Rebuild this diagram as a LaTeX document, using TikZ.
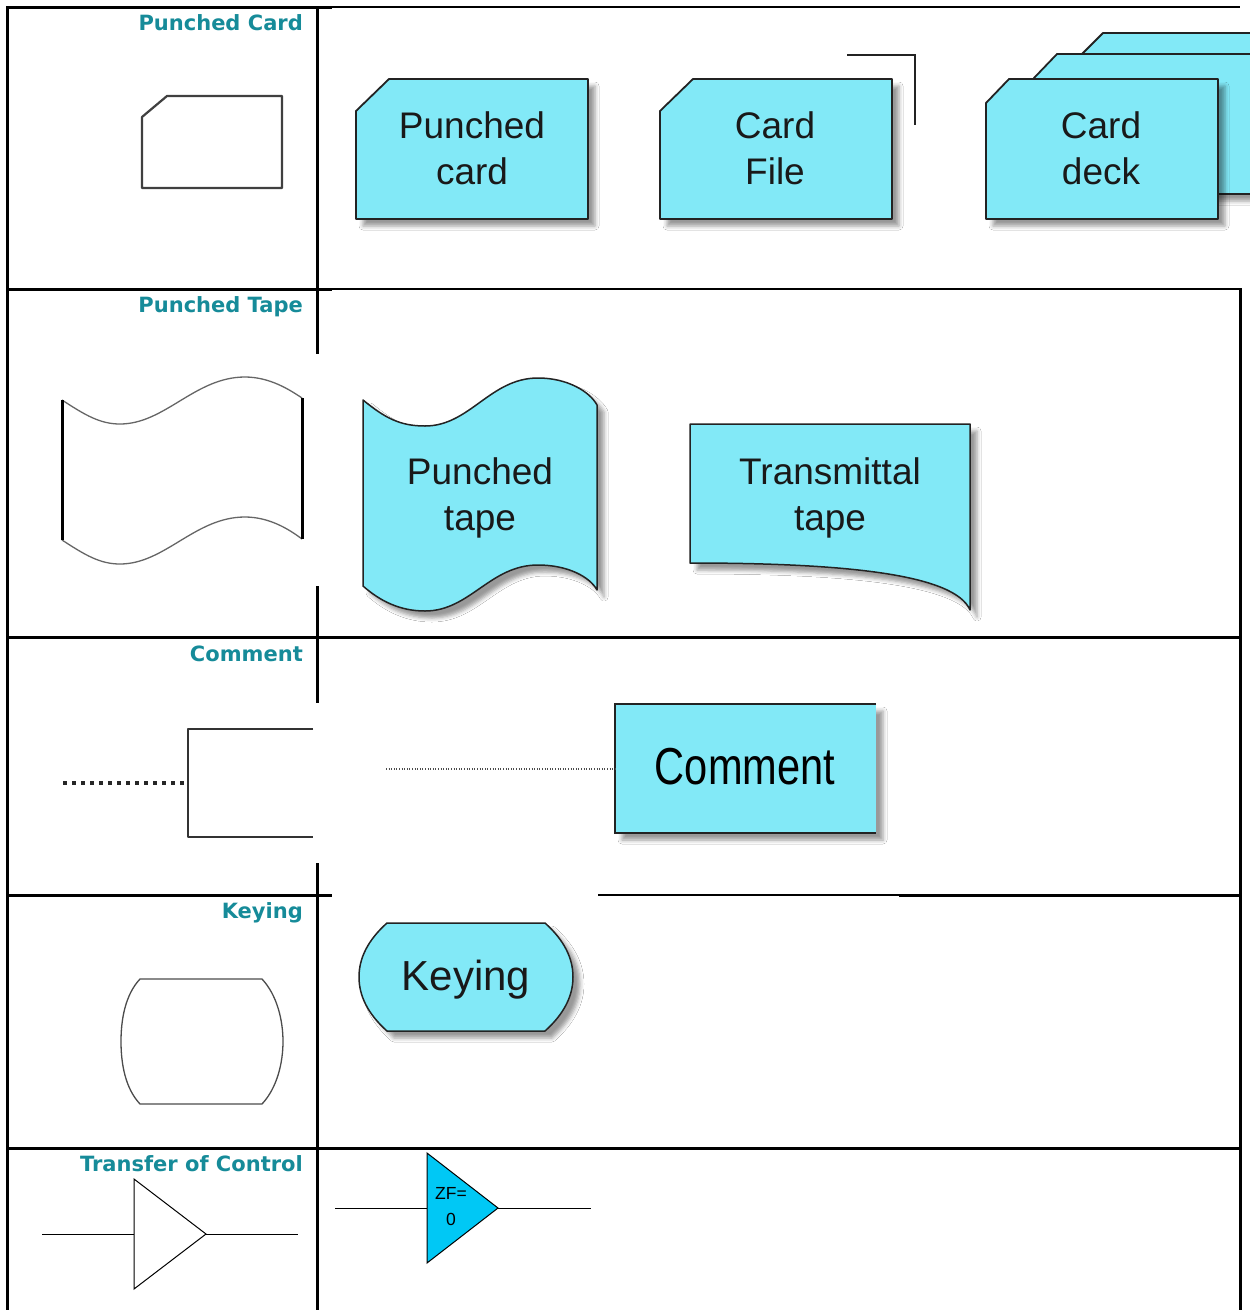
\documentclass[tikz,border=0pt]{standalone}
\usepackage{fontspec}
\setmainfont{Liberation Sans}
\newfontfamily\lblfont{DejaVu Sans}
\usetikzlibrary{shadows.blur}
\definecolor{cardblue}{RGB}{130,233,247}
\definecolor{lblteal}{RGB}{22,139,153}
\definecolor{tocblue}{RGB}{0,200,245}
\definecolor{shapeedge}{RGB}{35,35,35}
\begin{document}
\begin{tikzpicture}[x=1pt,y=-1pt,
  every node/.style={inner sep=0pt},
  tblthick/.style={line width=3pt,line cap=rect},
  tblthin/.style={line width=1.5pt},
  shd/.style={blur shadow={shadow xshift=7pt,shadow yshift=-7pt,shadow blur radius=4pt,shadow opacity=40}},
  card/.style={fill=cardblue,draw=shapeedge,line width=1.8pt,line join=round,shd},
  cardtxt/.style={font=\fontsize{37}{46}\selectfont,text=black!90,align=center},
  lbl/.style={font=\lblfont\bfseries\fontsize{21}{25}\selectfont,text=lblteal,anchor=base east},
  outl/.style={draw=black!80,line width=2pt,line join=round},
  thinline/.style={draw=black,line width=1pt}]
\useasboundingbox (0,0) rectangle (1250,1310);
\fill[white] (0,0) rectangle (1250,1310);

% ---------------- table grid ----------------
\draw[tblthick] (7,7) -- (7,1310);
\draw[tblthick] (317,7) -- (317,352);
\draw[tblthick] (317,587) -- (317,701);
\draw[tblthick] (317,864) -- (317,1310);
\draw[tblthick] (7,7) -- (330,7);
\draw[tblthin] (330,7) -- (1240,7);
\draw[tblthick] (7,289) -- (330,289);
\draw[tblthin] (330,289) -- (1240,289);
\draw[tblthick] (1240,289) -- (1240,1310);
\draw[tblthick] (7,637) -- (1240,637);
\draw[tblthick] (7,895) -- (330,895);
\draw[tblthin] (598,895) -- (900,895);
\draw[tblthick] (900,895) -- (1240,895);
\draw[tblthick] (7,1148) -- (1240,1148);

% ---------------- labels ----------------
\node[lbl] (lcard) at (303,30) {Punched Card};
\node[lbl] (ltape) at (303,312) {Punched Tape};
\node[lbl] (lcomm) at (303,661) {Comment};
\node[lbl] (lkey) at (303,918) {Keying};
\node[lbl] (ltoc) at (303,1171) {Transfer of Control};

% ---------------- row 1: punched card ----------------
\draw[draw=black!75,line width=2.2pt,line join=round]
  (142,117) -- (167,96) -- (282,96) -- (282,188) -- (142,188) -- cycle;

\path[card] (356,111) -- (389,79) -- (588,79) -- (588,219) -- (356,219) -- cycle;
\node[cardtxt] (pcard) at (472,148.5) {Punched\\card};

\path[card] (660,111) -- (693,79) -- (892,79) -- (892,219) -- (660,219) -- cycle;
\node[cardtxt] (cfile) at (775,148.5) {Card\\File};
\draw[draw=shapeedge,line width=2pt] (847,55) -- (915,55) -- (915,125);

\begin{scope}
  \clip (0,0) rectangle (1250,1310);
  \path[card] (1080,56) -- (1103,33) -- (1300,33) -- (1300,173) -- (1080,173) -- cycle;
  \path[card] (1034,78) -- (1057,54) -- (1300,54) -- (1300,194) -- (1034,194) -- cycle;
  \path[card] (986,103) -- (1009,79) -- (1218,79) -- (1218,219) -- (986,219) -- cycle;
\end{scope}
\node[cardtxt] (cdeck) at (1101,148.5) {Card\\deck};

% ---------------- row 2: punched tape ----------------
\draw[draw=black!60,line width=1.3pt]
  (62,400) .. controls (85,415) and (100,424) .. (120,424)
  .. controls (165,424) and (195,377) .. (245,377)
  .. controls (270,377) and (290,390) .. (302,398);
\draw[draw=black!60,line width=1.3pt]
  (62,540) .. controls (85,555) and (100,564) .. (120,564)
  .. controls (165,564) and (195,517) .. (245,517)
  .. controls (270,517) and (290,530) .. (302,539);
\draw[line width=3pt] (62,400) -- (62,540);
\draw[line width=3pt] (302,398) -- (302,539);

\path[card,line width=1.5pt]
  (363,400) .. controls (385,418) and (400,426) .. (425,426)
  .. controls (470,426) and (490,378) .. (538,378)
  .. controls (568,378) and (590,392) .. (597,405)
  -- (597,590)
  .. controls (590,577) and (568,565) .. (538,565)
  .. controls (490,565) and (470,611) .. (425,611)
  .. controls (400,611) and (380,601) .. (363,586) -- cycle;
\node[cardtxt] (ptape) at (480,498) {Punched\\tape};

\path[card,line width=1.5pt]
  (690,424) -- (970,424) -- (970,610)
  .. controls (955,575) and (850,563) .. (690,563) -- cycle;
\node[cardtxt] (ttape) at (830,498) {Transmittal\\tape};

% ---------------- row 3: comment ----------------
\coordinate (cdotA) at (63,783);
\coordinate (cbrk) at (188,783);
\draw[line width=3.5pt,dash pattern=on 3.5pt off 5.5pt,black!85] (cdotA) -- (cbrk);
\draw[outl] (313,729) -- (188,729) -- (188,837) -- (313,837);

\path[fill=cardblue,shd] (615,704) rectangle (876,833);
\draw[draw=shapeedge,line width=2pt] (876,704) -- (615,704) -- (615,833) -- (876,833);
\node[font=\fontsize{52}{60}\selectfont,text=black] (comm) at (745,767) {\scalebox{0.8}[1]{Comment}};
\coordinate (cdotB) at (386,769);
\draw[line width=1.2pt,dash pattern=on 1pt off 1.6pt,black!70] (cdotB) -- (615,769);

% ---------------- row 4: keying ----------------
\draw[draw=black!70,line width=1.3pt]
  (140,979) -- (262,979)
  .. controls (277,995) and (283,1020) .. (283,1041.5)
  .. controls (283,1063) and (277,1088) .. (262,1104)
  -- (140,1104)
  .. controls (125,1088) and (121,1063) .. (121,1041.5)
  .. controls (121,1020) and (125,995) .. (140,979) -- cycle;

\path[card,line width=1.5pt]
  (387,923) -- (545,923)
  .. controls (564,940) and (573,958) .. (573,977)
  .. controls (573,996) and (564,1014) .. (545,1031)
  -- (387,1031)
  .. controls (368,1014) and (359,996) .. (359,977)
  .. controls (359,958) and (368,940) .. (387,923) -- cycle;
\node[font=\fontsize{42}{50}\selectfont,text=black!90] (key) at (466,980) {Keying};

% ---------------- row 5: transfer of control ----------------
\coordinate (tinL) at (42,1234);
\coordinate (ttopL) at (134,1179);
\coordinate (tbotL) at (134,1289);
\coordinate (tapL) at (206,1234);
\coordinate (toutL) at (298,1234);
\draw[thinline] (tinL) -- (134,1234);
\draw[thinline,fill=white] (ttopL) -- (tbotL) -- (tapL) -- cycle;
\draw[thinline] (tapL) -- (toutL);

\coordinate (tinR) at (335,1208);
\coordinate (ttopR) at (427,1153);
\coordinate (tbotR) at (427,1263);
\coordinate (tapR) at (498,1208);
\coordinate (toutR) at (591,1208);
\draw[thinline] (tinR) -- (427,1208);
\draw[thinline,fill=tocblue] (ttopR) -- (tbotR) -- (tapR) -- cycle;
\draw[thinline] (tapR) -- (toutR);
\node[font=\fontsize{17.5}{26}\selectfont,align=center] (zf) at (451,1207) {ZF=\\0};
\end{tikzpicture}
\end{document}
